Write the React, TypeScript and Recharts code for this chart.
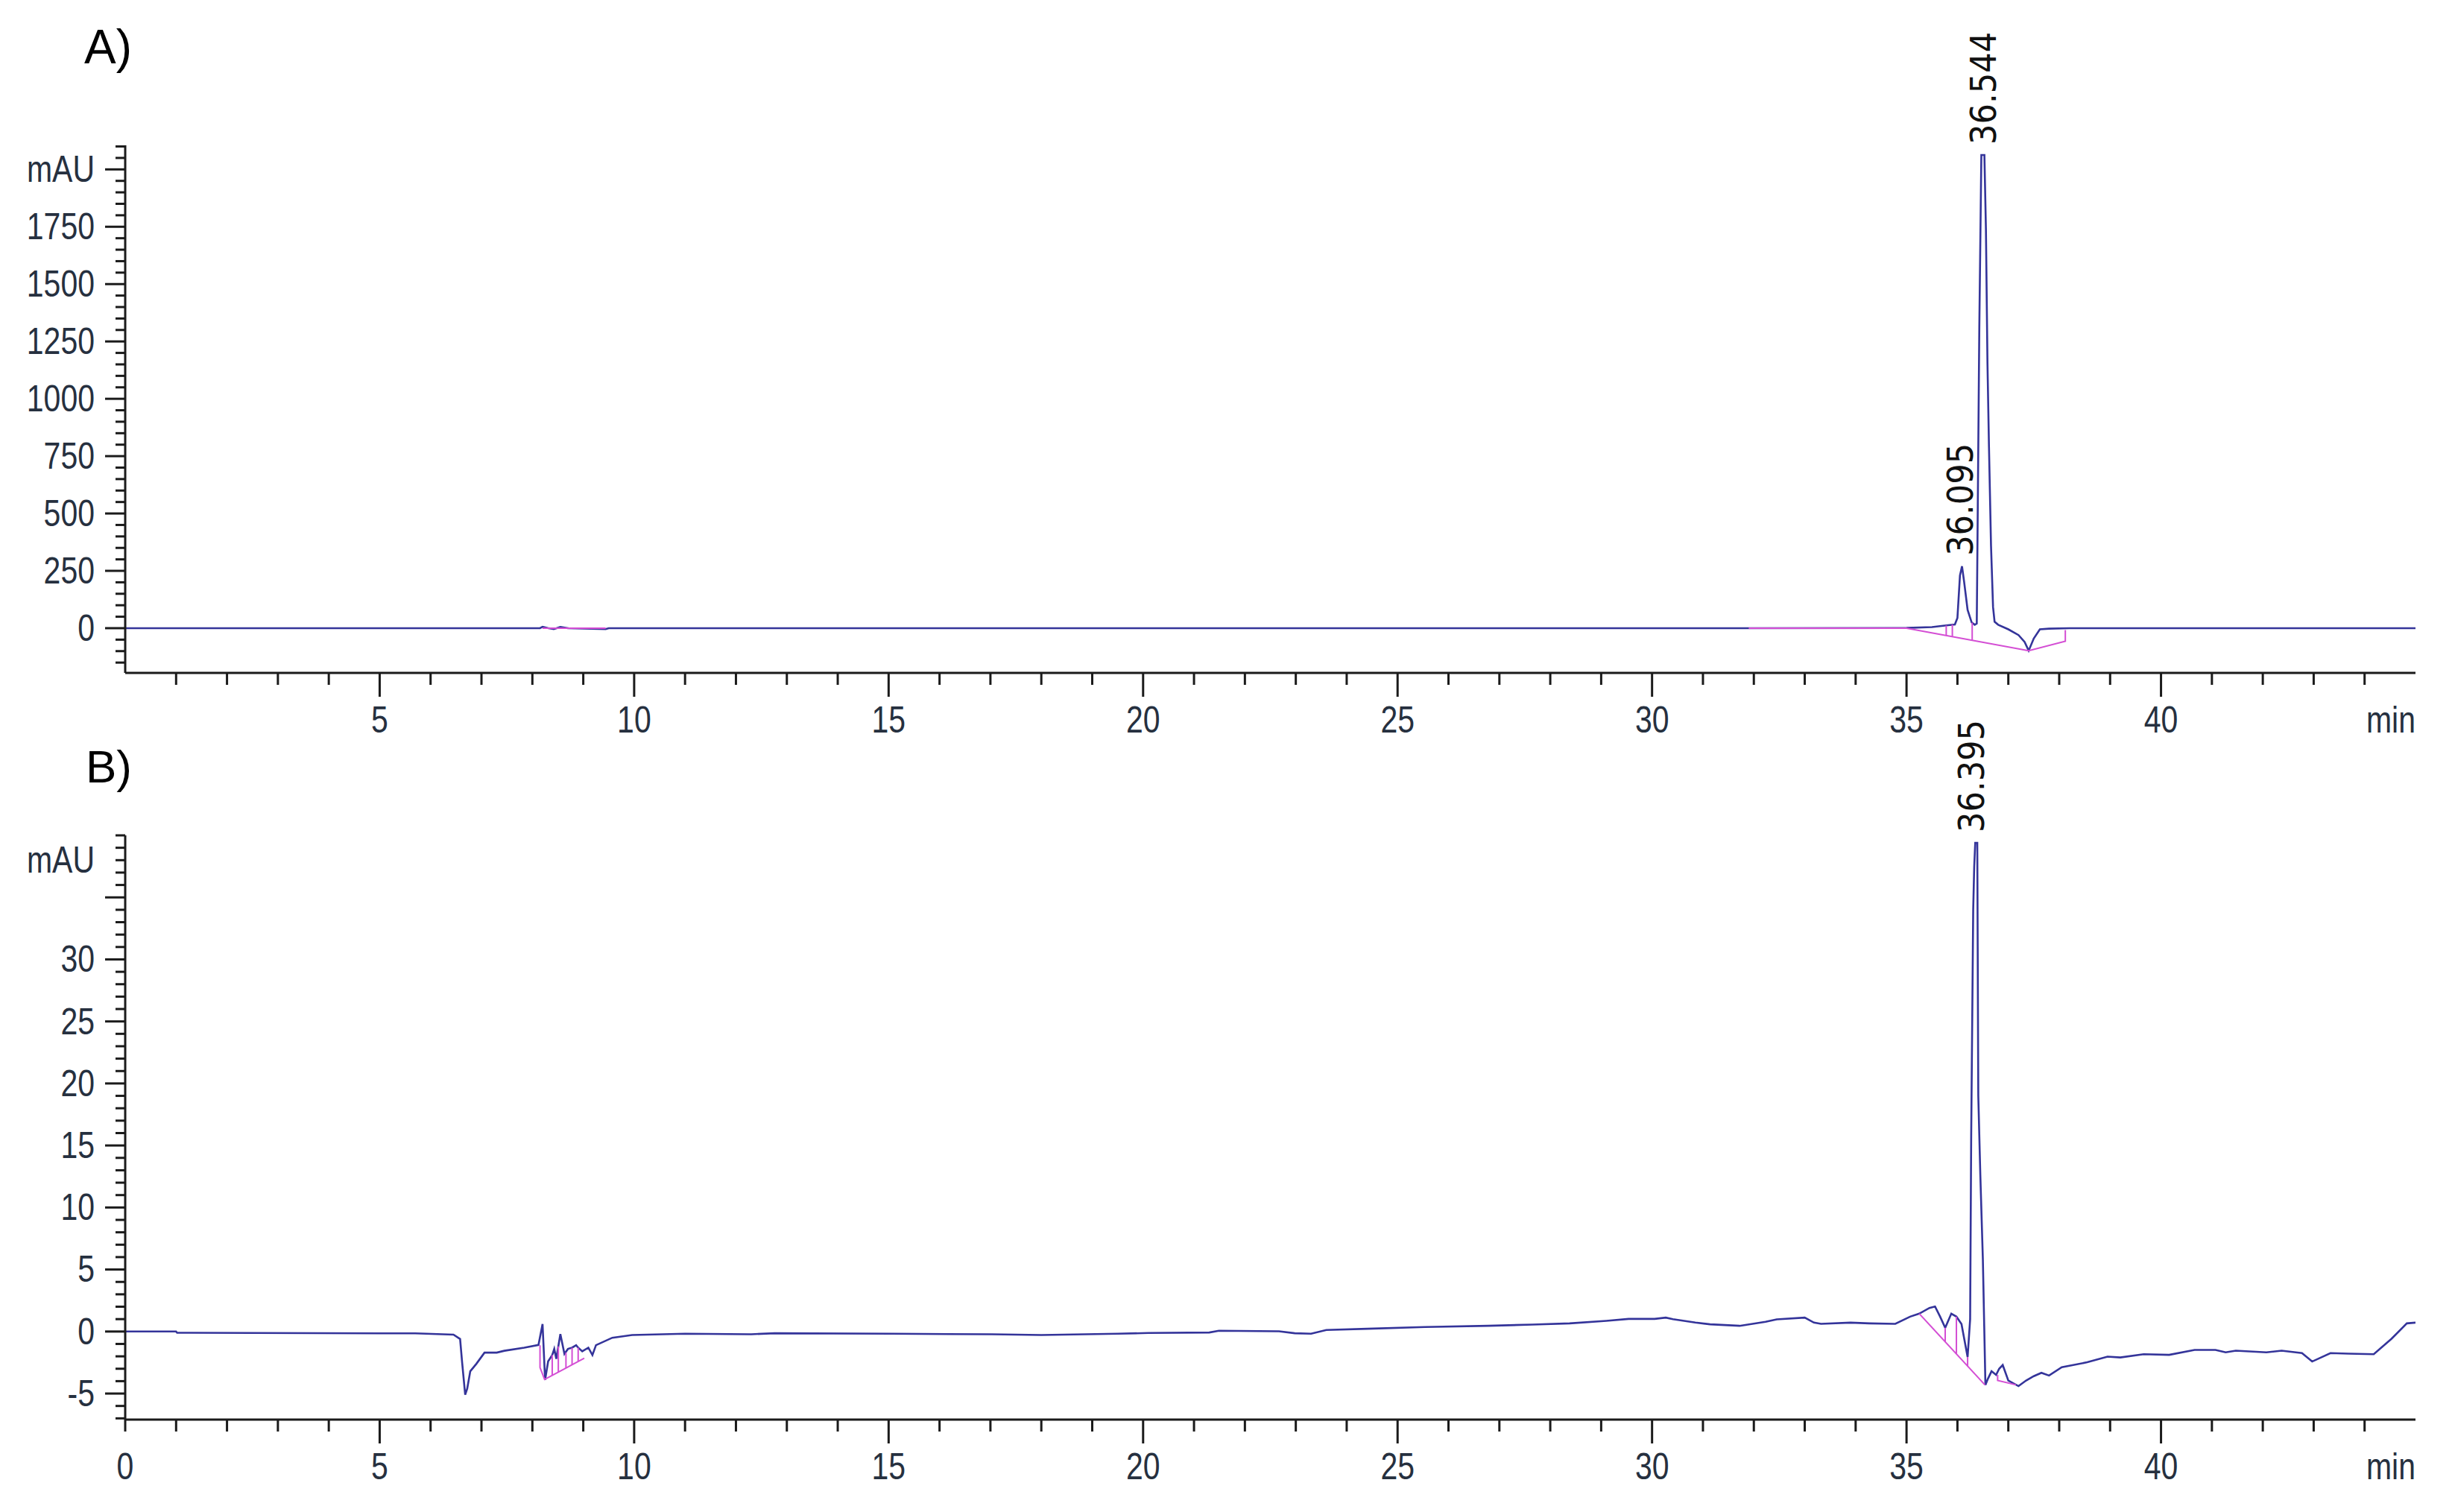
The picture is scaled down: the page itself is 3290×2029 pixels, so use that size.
import React from "react";
import { LineChart, Line, XAxis, YAxis, LabelList } from "recharts";

// retention time (min), absorbance (mAU)
const traceA: [number, number][] = [
  [0, 0], [8.15, 0], [8.2, 6], [8.3, 1], [8.42, -4], [8.55, 5], [8.7, 0], [9.44, -4], [9.5, 0],
  [31.8, 0], [35.0, 1], [35.5, 5], [35.78, 12], [35.95, 16], [36.0, 45], [36.05, 230], [36.09, 270],
  [36.13, 205], [36.2, 80], [36.28, 25], [36.34, 15], [36.38, 20], [36.4, 530], [36.43, 1310],
  [36.47, 2063], [36.53, 2063], [36.56, 1740], [36.59, 1160], [36.62, 790], [36.66, 360], [36.7, 92],
  [36.73, 28], [36.8, 15], [37.0, -5], [37.2, -30], [37.32, -60], [37.4, -98], [37.5, -45],
  [37.62, -5], [37.8, -2], [38.2, 0], [45, 0],
];

const traceB: [number, number][] = [
  [0, 0], [1.0, 0], [1.02, -0.1], [5.7, -0.15], [6.45, -0.25], [6.58, -0.6], [6.62, -2.5], [6.68, -5.1],
  [6.72, -4.6], [6.78, -3.2], [6.9, -2.6], [7.06, -1.7], [7.3, -1.7], [7.45, -1.55], [7.84, -1.3],
  [8.12, -1.08], [8.2, 0.6], [8.25, -3.9], [8.31, -2.4], [8.39, -1.9], [8.43, -1.4], [8.47, -2.2],
  [8.51, -1.2], [8.55, -0.2], [8.63, -1.8], [8.7, -1.4], [8.78, -1.3], [8.86, -1.1], [8.9, -1.3],
  [8.98, -1.6], [9.1, -1.3], [9.18, -1.9], [9.25, -1.1], [9.57, -0.5], [9.96, -0.28], [11.0, -0.18],
  [12.3, -0.22], [12.76, -0.14], [15.07, -0.18], [17.03, -0.22], [18.0, -0.28], [19.5, -0.18],
  [20.1, -0.12], [21.3, -0.08], [21.49, 0.06], [22.67, 0.02], [22.98, -0.14], [23.3, -0.18],
  [23.6, 0.12], [24.4, 0.22], [25.54, 0.36], [26.78, 0.46], [27.65, 0.56], [28.38, 0.66], [29.1, 0.86],
  [29.54, 1.02], [30.05, 1.02], [30.27, 1.12], [30.41, 1.0], [30.85, 0.72], [31.14, 0.58], [31.72, 0.46],
  [32.23, 0.78], [32.45, 0.98], [33.0, 1.12], [33.18, 0.72], [33.32, 0.62], [33.9, 0.72], [34.27, 0.66],
  [34.78, 0.62], [35.07, 1.2], [35.25, 1.44], [35.45, 1.9], [35.56, 2.02], [35.66, 1.2], [35.76, 0.3],
  [35.88, 1.44], [35.98, 1.2], [36.08, 0.6], [36.2, -2.05], [36.25, 1.0], [36.27, 15.5], [36.31, 34],
  [36.33, 37.5], [36.35, 39.4], [36.39, 39.4], [36.41, 19], [36.45, 12.6], [36.5, 5.8], [36.55, -4.3],
  [36.6, -3.8], [36.67, -3.2], [36.76, -3.5], [36.82, -3.0], [36.89, -2.7], [37.0, -3.95], [37.2, -4.4],
  [37.35, -3.95], [37.5, -3.6], [37.65, -3.33], [37.8, -3.55], [38.05, -2.88], [38.55, -2.48],
  [38.95, -2.02], [39.2, -2.09], [39.66, -1.83], [40.16, -1.88], [40.66, -1.48], [41.07, -1.48],
  [41.27, -1.68], [41.47, -1.54], [42.07, -1.68], [42.37, -1.54], [42.77, -1.74], [42.97, -2.42],
  [43.33, -1.74], [43.68, -1.78], [44.18, -1.83], [44.53, -0.58], [44.83, 0.66], [45, 0.72],
];

// integration baselines (magenta polylines)
const baselineA: [number, number][][] = [
  [[8.2, 0], [9.44, 0]],
  [[31.9, 0], [35, 0], [37.4, -98], [38.12, -57], [38.12, -8]],
];
const baselineB: [number, number][][] = [
  [[8.15, -1.1], [8.15, -2.9], [8.24, -3.86], [9.02, -2.15]],
  [[35.25, 1.44], [36.54, -4.3]],
  [[36.79, -3.5], [36.79, -3.95], [37.15, -4.3]],
];
// drop lines: time, top, bottom
const dropsA: [number, number, number][] = [[35.78, 12, -32], [35.9, 16, -37], [36.29, 24, -53]];
const dropsB: [number, number, number][] = [
  [8.39, -1.9, -3.53], [8.51, -1.2, -3.27], [8.66, -1.7, -2.94], [8.78, -1.3, -2.68], [8.9, -1.3, -2.41],
  [35.76, 0.3, -0.83], [35.98, 1.2, -1.81], [36.2, -2.05, -2.79],
];

// peak labels
const peakTimesA = [36.05, 36.5];
const peakHeightsA = [270, 2063];
const peakNamesA = ["36.095", "36.544"];
const peakTimesB = [36.27];
const peakHeightsB = [39.4];
const peakNamesB = ["36.395"];

// axes
const xMajor = [0, 5, 10, 15, 20, 25, 30, 35, 40];
const xLabelsA = ["", "5", "10", "15", "20", "25", "30", "35", "40"];
const xLabelsB = ["0", "5", "10", "15", "20", "25", "30", "35", "40"];
const yMajorA = [0, 250, 500, 750, 1000, 1250, 1500, 1750, 2000];
const yLabelsA = ["0", "250", "500", "750", "1000", "1250", "1500", "1750", "mAU"];
const yMajorB = [-5, 0, 5, 10, 15, 20, 25, 30, 35];
const yLabelsB = ["-5", "0", "5", "10", "15", "20", "25", "30", ""];

const INK = "#1b1b1b";
const TXT = "#26303f";
const TRACE = "#34349a";
const BASE = "#d44ed4";
const AXIS_FONT = "'Liberation Sans', Arial, sans-serif";
const PEAK_FONT = "'DejaVu Sans Condensed', 'Liberation Sans Narrow', 'DejaVu Sans', sans-serif";

const toRows = (pts: [number, number][]) => pts.map(([t, v]) => ({ t, v }));
const range = (a: number, b: number, step: number) => {
  const out: number[] = [];
  for (let i = Math.round(a / step); i <= Math.round(b / step); i++) out.push(i * step);
  return out;
};

// the instrument font is tall and narrow: stretch Arial vertically a bit
function AxisText({ x, y, anchor, central, children }: any) {
  return (
    <text
      transform={`translate(${x} ${y}) scale(1 1.2)`}
      textAnchor={anchor}
      dominantBaseline={central ? "central" : "auto"}
      fontSize={41}
      fontFamily={AXIS_FONT}
      fill={TXT}
    >
      {children}
    </text>
  );
}

const renderPeak = (p: any) => {
  const x = Number(p.x ?? p.viewBox?.x);
  const y = Number(p.y ?? p.viewBox?.y) - 14;
  return (
    <text
      x={x}
      y={y}
      transform={`rotate(-90 ${x} ${y})`}
      textAnchor="start"
      dominantBaseline="central"
      fontSize={48}
      fontFamily={PEAK_FONT}
      fill="#111"
    >
      {p.value}
    </text>
  );
};

interface PanelProps {
  top: number;
  height: number;
  plotTop: number;
  plotBottom: number;
  trace: [number, number][];
  baselines: [number, number][][];
  drops: [number, number, number][];
  peaks: { t: number; v: number; name: string }[];
  yDomain: [number, number];
  yTicks: number[];
  yMajor: number[];
  yLabels: string[];
  unitAt?: number;
  xTicks: number[];
  xLabels: string[];
}

function Panel(props: PanelProps) {
  const { top, height, plotTop, plotBottom, trace, baselines, drops, peaks } = props;

  const yTick = (p: any) => {
    const v = p.payload.value;
    const mi = props.yMajor.indexOf(v);
    const len = mi >= 0 ? 27 : 13;
    const text = mi >= 0 ? props.yLabels[mi] : v === props.unitAt ? "mAU" : "";
    return (
      <g>
        <line x1={p.x - len} x2={p.x} y1={p.y} y2={p.y} stroke={INK} strokeWidth={3} />
        {text ? (
          <AxisText x={p.x - 41} y={p.y} anchor="end" central>
            {text}
          </AxisText>
        ) : null}
      </g>
    );
  };

  const xTick = (p: any) => {
    const v = p.payload.value;
    if (v === 45) {
      return (
        <AxisText x={p.x} y={p.y + 80} anchor="end">
          min
        </AxisText>
      );
    }
    const mi = xMajor.indexOf(v);
    const len = mi > 0 ? 32 : 16;
    const text = mi >= 0 ? props.xLabels[mi] : "";
    return (
      <g>
        <line x1={p.x} x2={p.x} y1={p.y} y2={p.y + len} stroke={INK} strokeWidth={3} />
        {text ? (
          <AxisText x={p.x} y={p.y + 80} anchor="middle">
            {text}
          </AxisText>
        ) : null}
      </g>
    );
  };

  return (
    <div style={{ position: "absolute", left: 0, top }}>
      <LineChart width={3290} height={height} margin={{ top: plotTop, right: 49, bottom: 0, left: 0 }}>
        <XAxis
          dataKey="t"
          type="number"
          domain={[0, 45]}
          ticks={props.xTicks}
          interval={0}
          tickSize={0}
          tickMargin={0}
          height={height - plotBottom}
          axisLine={{ stroke: INK, strokeWidth: 3 }}
          tickLine={false}
          tick={xTick}
          allowDataOverflow
        />
        <YAxis
          type="number"
          domain={props.yDomain}
          ticks={props.yTicks}
          interval={0}
          width={168}
          tickSize={0}
          tickMargin={0}
          axisLine={{ stroke: INK, strokeWidth: 3 }}
          tickLine={false}
          tick={yTick}
          allowDataOverflow
        />
        <Line
          data={toRows(trace)}
          dataKey="v"
          type="linear"
          stroke={TRACE}
          strokeWidth={2.6}
          dot={false}
          activeDot={false}
          isAnimationActive={false}
        />
        {baselines.map((seg, i) => (
          <Line
            key={`b${i}`}
            data={toRows(seg)}
            dataKey="v"
            type="linear"
            stroke={BASE}
            strokeWidth={2}
            dot={false}
            activeDot={false}
            isAnimationActive={false}
          />
        ))}
        {drops.map(([t, a, b], i) => (
          <Line
            key={`d${i}`}
            data={[{ t, v: a }, { t, v: b }]}
            dataKey="v"
            type="linear"
            stroke={BASE}
            strokeWidth={2}
            dot={false}
            activeDot={false}
            isAnimationActive={false}
          />
        ))}
        <Line
          data={peaks}
          dataKey="v"
          stroke="none"
          dot={false}
          activeDot={false}
          isAnimationActive={false}
        >
          <LabelList dataKey="name" content={renderPeak} />
        </Line>
      </LineChart>
    </div>
  );
}

export default function App() {
  const peaksA = peakTimesA.map((t, i) => ({ t, v: peakHeightsA[i], name: peakNamesA[i] }));
  const peaksB = peakTimesB.map((t, i) => ({ t, v: peakHeightsB[i], name: peakNamesB[i] }));
  return (
    <div style={{ position: "absolute", left: 0, top: 0, width: 3290, height: 2029, background: "#fff" }}>
      <Panel
        top={0}
        height={1010}
        plotTop={195}
        plotBottom={903}
        trace={traceA}
        baselines={baselineA}
        drops={dropsA}
        peaks={peaksA}
        yDomain={[-195, 2105]}
        yTicks={range(-150, 2100, 50)}
        yMajor={yMajorA}
        yLabels={yLabelsA}
        xTicks={[...range(1, 44, 1), 45]}
        xLabels={xLabelsA}
      />
      <Panel
        top={900}
        height={1129}
        plotTop={221}
        plotBottom={1005}
        trace={traceB}
        baselines={baselineB}
        drops={dropsB}
        peaks={peaksB}
        yDomain={[-7.1, 40]}
        yTicks={range(-7, 40, 1)}
        yMajor={yMajorB}
        yLabels={yLabelsB}
        unitAt={38}
        xTicks={[...range(0, 44, 1), 45]}
        xLabels={xLabelsB}
      />
      <svg width={3290} height={2029} style={{ position: "absolute", left: 0, top: 0, pointerEvents: "none" }}>
        <text x={113} y={85} fontSize={64} fontFamily="'Liberation Sans', Arial, sans-serif" fill="#000">
          A)
        </text>
        <text x={115} y={1050} fontSize={62} fontFamily="'Liberation Sans', Arial, sans-serif" fill="#000">
          B)
        </text>
      </svg>
    </div>
  );
}
